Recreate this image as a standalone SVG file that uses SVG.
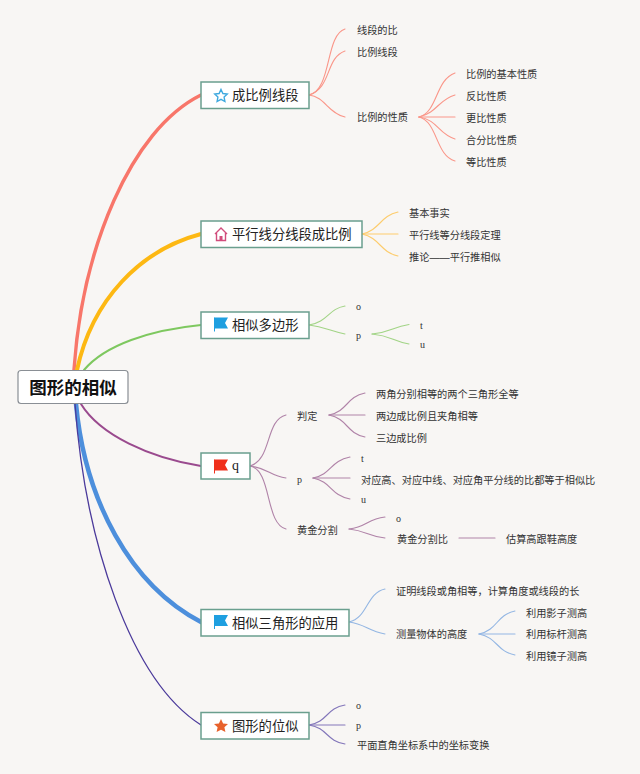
<svg xmlns="http://www.w3.org/2000/svg" width="640" height="774" viewBox="0 0 640 774">
<style>
text{font-family:"Noto Sans CJK SC","Noto Sans",sans-serif;fill:#333;font-size:10.2px}
.l{font-family:"Liberation Serif",serif;font-size:10px}
.t{font-size:13.3px;fill:#222}
.n{fill:#fff;stroke:#6a9f8e;stroke-width:1.5}
.b{fill:none;stroke-width:1.1;stroke-linecap:round}
.m{fill:none;stroke-linecap:round}
.red{stroke:#fa9689}.or{stroke:#fdcc6c}.gr{stroke:#a2d486}.pu{stroke:#b083a8}.bl{stroke:#93b6e3}.in{stroke:#8376ba}
</style>
<rect width="640" height="774" fill="#f8f6f4"/>
<g id="connectors">
<path class="m" stroke="#f8766a" stroke-width="3.500" d="M74 370C82 250 130 130 201 95"/>
<path class="m" stroke="#fdb813" stroke-width="4" d="M77 370C92 300 140 250 201 234"/>
<path class="m" stroke="#7ec85f" stroke-width="2" d="M84 370C105 345 150 330 201 325"/>
<path class="m" stroke="#9a4a8e" stroke-width="2" d="M81 404C100 435 150 458 201 466"/>
<path class="m" stroke="#4d8fdc" stroke-width="4.500" d="M76 404C85 500 130 585 201 622"/>
<path class="m" stroke="#4b3a9b" stroke-width="1.300" d="M75 404C85 540 130 680 201 725"/>
<g class="red">
<path class="b" d="M309 95C332 90 325 35 345 29"/><path class="b" d="M309 95C332 88 325 58 345 51"/><path class="b" d="M309 95C325 97 328 113 345 117"/>
<path class="b" d="M419 117C438 112 435 80 455 73"/><path class="b" d="M419 117C438 112 438 100 455 95"/><path class="b" d="M419 117H455"/><path class="b" d="M419 117C438 120 438 134 455 139"/><path class="b" d="M419 117C438 122 435 155 455 161"/>
</g>
<g class="or">
<path class="b" d="M362 234C380 230 380 216 398 212"/><path class="b" d="M362 234H398"/><path class="b" d="M362 234C380 238 380 252 398 256"/>
</g>
<g class="gr">
<path class="b" d="M309 325C328 322 328 309 345 306"/><path class="b" d="M309 325C325 327 330 331 345 334"/>
<path class="b" d="M372 334C392 332 392 327 409 324.500"/><path class="b" d="M372 334C392 336 392 341 409 344"/>
</g>
<g class="pu">
<path class="b" d="M250 466C272 460 265 420 286 415"/><path class="b" d="M250 466C268 468 270 476 286 478"/><path class="b" d="M250 466C272 470 265 524 286 529"/>
<path class="b" d="M329 415C348 411 346 397 365 393"/><path class="b" d="M329 415H365"/><path class="b" d="M329 415C348 419 346 433 365 437"/>
<path class="b" d="M313 478C332 474 330 461 350 457"/><path class="b" d="M313 478H350"/><path class="b" d="M313 478C332 482 330 495 350 499"/>
<path class="b" d="M349 529C367 527 367 519 385 517"/><path class="b" d="M349 529C367 531 367 536 385 538"/>
<path class="b" d="M459 538H495"/>
</g>
<g class="bl">
<path class="b" d="M349 622C368 618 366 593 385 589"/><path class="b" d="M349 622C365 624 368 631 385 634"/>
<path class="b" d="M479 634C498 630 496 615 515 611"/><path class="b" d="M479 634H515"/><path class="b" d="M479 634C498 638 496 651 515 655"/>
</g>
<g class="in">
<path class="b" d="M309 725C328 722 326 708 345 705"/><path class="b" d="M309 725H345"/><path class="b" d="M309 725C328 728 326 741 345 744"/>
</g>
</g>
<g id="root"><rect x="18" y="370.500" width="110" height="33" rx="3" fill="#fff" stroke="#8a8f95" stroke-width="1.200"/><text x="73" y="394" text-anchor="middle" style="font-size:17.500px;font-weight:700;fill:#111">图形的相似</text></g>
<g id="n1"><rect class="n" x="201" y="82" width="108" height="26.500"/><path d="M221 89.500l1.900 4 4.400.6-3.200 3 .8 4.400-3.900-2.100-3.900 2.100.8-4.400-3.200-3 4.400-.6z" fill="none" stroke="#3fa9df" stroke-width="1.400"/><text class="t" x="232" y="100">成比例线段</text></g>
<g id="n2"><rect class="n" x="201" y="221" width="161" height="26.500"/><path d="M215 234l6-6 6 6M216.500 233v7.500h9V233" fill="none" stroke="#d14d7c" stroke-width="1.400"/><rect x="219.500" y="236" width="3" height="4.500" fill="#d14d7c"/><text class="t" x="232" y="239">平行线分线段成比例</text></g>
<g id="n3"><rect class="n" x="201" y="312" width="108" height="26.500"/><path d="M214.500 317.500h13.500l-3 5.500 3 5.500h-13.500z" fill="#1e9fe0"/><path d="M214.500 317.500v14" stroke="#1e9fe0" stroke-width="1"/><text class="t" x="232" y="330">相似多边形</text></g>
<g id="n4"><rect class="n" x="201" y="453" width="49" height="26"/><path d="M214.500 459.500h13.500l-3 5.500 3 5.500h-13.500z" fill="#f0301c"/><path d="M214.500 459.500v14" stroke="#f0301c" stroke-width="1"/><text x="232" y="470" style="font-family:'Liberation Serif',serif;font-size:14px;fill:#222">q</text></g>
<g id="n5"><rect class="n" x="201" y="609.500" width="148" height="26.500"/><path d="M214.500 615h13.500l-3 5.500 3 5.500h-13.500z" fill="#1e9fe0"/><path d="M214.500 615v14" stroke="#1e9fe0" stroke-width="1"/><text class="t" x="232" y="628">相似三角形的应用</text></g>
<g id="n6"><rect class="n" x="201" y="712.500" width="108" height="26.500"/><path d="M221 719l2.100 4.400 4.900.6-3.600 3.300 1 4.800-4.400-2.400-4.400 2.400 1-4.800-3.600-3.300 4.900-.6z" fill="#e8622c"/><text class="t" x="232" y="731">图形的位似</text></g>
<g id="labels">
<text x="357" y="34">线段的比</text><text x="357" y="56">比例线段</text><text x="357" y="121">比例的性质</text>
<text x="466" y="77.500">比例的基本性质</text><text x="466" y="99.500">反比性质</text><text x="466" y="121.500">更比性质</text><text x="466" y="143.500">合分比性质</text><text x="466" y="165.500">等比性质</text>
<text x="409" y="217">基本事实</text><text x="409" y="239">平行线等分线段定理</text><text x="409" y="261">推论<tspan style="font-family:'Liberation Sans',sans-serif">——</tspan>平行推相似</text>
<text class="l" x="356" y="310">o</text><text class="l" x="356" y="339">p</text><text class="l" x="420" y="329">t</text><text class="l" x="420" y="348">u</text>
<text x="297" y="420">判定</text><text class="l" x="297" y="483">p</text><text x="297" y="534">黄金分割</text>
<text x="376" y="398">两角分别相等的两个三角形全等</text><text x="376" y="420">两边成比例且夹角相等</text><text x="376" y="442">三边成比例</text>
<text class="l" x="361" y="462">t</text><text x="361" y="483.500">对应高、对应中线、对应角平分线的比都等于相似比</text><text class="l" x="361" y="503">u</text>
<text class="l" x="396" y="522">o</text><text x="397" y="543">黄金分割比</text><text x="506" y="543">估算高跟鞋高度</text>
<text x="396" y="594.500">证明线段或角相等，计算角度或线段的长</text><text x="396" y="638">测量物体的高度</text>
<text x="526" y="616.500">利用影子测高</text><text x="526" y="638">利用标杆测高</text><text x="526" y="660">利用镜子测高</text>
<text class="l" x="356" y="709">o</text><text class="l" x="356" y="729">p</text><text x="357" y="749">平面直角坐标系中的坐标变换</text>
</g>
</svg>
